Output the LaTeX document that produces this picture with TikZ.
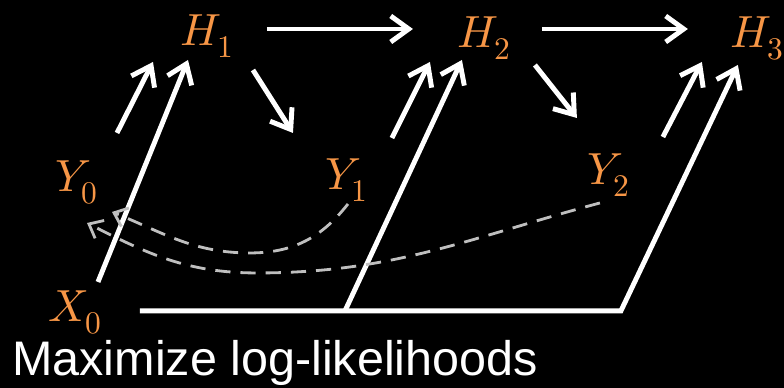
\documentclass[tikz,border=0pt]{standalone}
\usepackage{fontspec}
\usepackage{unicode-math}
\setmainfont{Liberation Sans}
\setmathfont{Latin Modern Math}
\usetikzlibrary{arrows.meta,positioning}
\definecolor{varorange}{HTML}{F79646}
\definecolor{backgray}{HTML}{BFBFBF}

\begin{document}
\begin{tikzpicture}[x=0.025cm, y=0.025cm,
    var/.style={text=varorange, inner sep=0pt, anchor=base west, font=\fontsize{32}{38}\selectfont},
    arr/.style={-{Straight Barb[length=0.45cm,width=0.65cm]}, white, line width=3.5pt},
    back/.style={-{Straight Barb[length=0.3cm,width=0.5cm]}, backgray, line width=2pt, dash pattern=on 0.38cm off 0.25cm}
  ]
    \fill[black] (0,0) rectangle (784,388);

    % variables
    \node[var] (H1) at (180,342) {$H_1$};
    \node[var] (H2) at (457,340) {$H_2$};
    \node[var] (H3) at (730,340) {$H_3$};
    \node[var] (Y0) at (55,196) {$Y_0$};
    \node[var] (Y1) at (325,198) {$Y_1$};
    \node[var] (Y2) at (587,203) {$Y_2$};
    \node[var] (X0) at (48,66) {$X_0$};
    \node[anchor=base west, inner sep=0pt, text=white, font=\fontsize{34.5}{40}\selectfont] (cap) at (12,12) {Maximize log-likelihoods};

    % arrow ends
    \coordinate (h1e) at (267,359);  \coordinate (h2w) at (413,359);
    \coordinate (h2e) at (542,359);  \coordinate (h3w) at (688,359);
    \coordinate (h1d) at (253,318);  \coordinate (y1u) at (293,255);
    \coordinate (h2d) at (535,323);  \coordinate (y2u) at (577,270);
    \coordinate (y0r) at (117,255);  \coordinate (h1a) at (153,326);
    \coordinate (x0r) at (98,106);   \coordinate (h1b) at (188,328);
    \coordinate (y1r) at (392,250);  \coordinate (h2a) at (430,326);
    \coordinate (xa) at (345,77);    \coordinate (h2b) at (462,328);
    \coordinate (y2r) at (663,251);  \coordinate (h3a) at (702,326);
    \coordinate (xs) at (140,77);    \coordinate (xb) at (621,77);
    \coordinate (h3b) at (738,323);

    \foreach \i/\j in {h1e/h2w, h2e/h3w, h1d/y1u, h2d/y2u, y0r/h1a, x0r/h1b, y1r/h2a, xa/h2b, y2r/h3a}
      \draw[arr] (\i) -- (\j);
    \draw[arr, line join=miter] (xs) -- (xb) -- (h3b);

    % gradients back to Y0
    \coordinate (y1s) at (348,184);  \coordinate (y0a) at (112,176);
    \coordinate (y2s) at (600,185);  \coordinate (y0b) at (87,165);
    \draw[back] (y1s) to[out=232,in=0] (250,135) to[out=180,in=-22] (y0a);
    \draw[back] (y2s) to[out=195,in=0] (257,115) to[out=180,in=-27] (y0b);
\end{tikzpicture}
\end{document}
